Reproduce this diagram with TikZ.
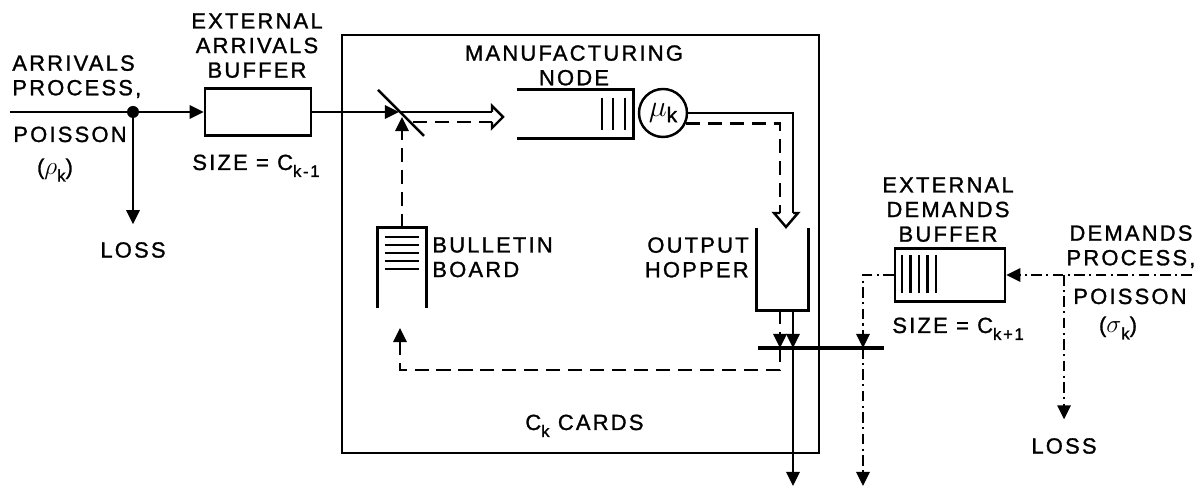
\documentclass[tikz,border=0pt]{standalone}
\usepackage{fontspec}
\newfontfamily\lett{Liberation Sans}[LetterSpace=10,FakeBold=1.2]
\usepackage{tikz}
\usetikzlibrary{arrows.meta,positioning}
\tikzset{
  ln/.style={line width=1.4pt},
  tp/.style={-{Triangle[length=8pt,width=7.5pt]}},
  fw/.style={ln,tp},
  crd/.style={ln,dash pattern=on 8pt off 4.5pt},
  dmd/.style={ln,dash pattern=on 6pt off 2.5pt on 1.2pt off 2.5pt},
  buf/.style={draw,ln,inner sep=0pt},
  lbl/.style={font=\lett\fontsize{12.5}{14}\selectfont,align=center,inner sep=0pt}
}
\newcommand{\lowix}[1]{\raisebox{-0.6ex}{\fontsize{9.5}{10}\selectfont #1}}
\newcommand{\holr}[2]{\draw[ln] (#1-0.22,#2+0.10) -- (#1-0.22,#2+0.22) -- (#1,#2) -- (#1-0.22,#2-0.22) -- (#1-0.22,#2-0.10);}
\newcommand{\hold}[2]{\draw[ln] (#1-0.12,#2+0.28) -- (#1-0.24,#2+0.28) -- (#1,#2) -- (#1+0.24,#2+0.28) -- (#1+0.14,#2+0.28);}

\begin{document}
\begin{tikzpicture}
\useasboundingbox (0,0) rectangle (24.04,9.74);
% the card loop
\node[buf,minimum width=9.54cm,minimum height=8.36cm] (cell) at (11.61,4.86) {};
\node[lbl,anchor=base west] (cards) at (10.50,1.14) {C\lowix{k} CARDS};

% arrivals side
\coordinate (arrin) at (0.20,7.50);
\node[circle,fill,inner sep=0pt,minimum size=2.4mm] (split) at (2.66,7.50) {};
\node[buf,minimum width=2.12cm,minimum height=0.94cm] (arrbuf) at (5.16,7.50) {};
\node[lbl,anchor=north west,align=left] (arrp) at (0.24,8.64) {ARRIVALS\\PROCESS,};
\node[lbl,anchor=base west] (arrpo) at (0.26,6.90) {POISSON};
\node[lbl] (rho) at (1.10,6.34) {({\fontsize{14}{14}\selectfont$\rho$}\lowix{k})};
\node[lbl] (lossa) at (2.66,4.74) {LOSS};
\node[lbl,anchor=north] (arrbl) at (5.14,9.48) {EXTERNAL\\ARRIVALS\\BUFFER};
\node[lbl,anchor=base west] (size1) at (3.84,6.34) {SIZE = C\lowix{k-1}};
\draw[ln] (arrin) -- (split);
\draw[fw] (split) -- (arrbuf);
\draw[fw,shorten >=10pt] (split) -- (lossa);

% switch in front of the node
\coordinate (sw) at (7.98,7.50);
\coordinate (swb) at (8.04,7.40);
\draw[ln] (7.56,7.94) -- (8.48,7.02);
\draw[fw] (arrbuf) -- (sw);
\draw[ln] (sw) -- (9.84,7.50);
\draw[crd] (8.26,7.30) -- (9.84,7.30);
\holr{10.06}{7.40}

% manufacturing node
\node[minimum width=2.32cm,minimum height=0.96cm,inner sep=0pt] (mfgq) at (11.50,7.46) {};
\draw[ln] (mfgq.north west) -- (mfgq.north east) -- (mfgq.south east) -- (mfgq.south west);
\foreach \x in {12.04,12.26,12.50} \draw[ln] (\x,7.78) -- (\x,7.14);
\node[circle,draw,ln,minimum size=0.96cm,inner sep=0pt,font=\lett\fontsize{12}{14}\selectfont] (mu) at (13.26,7.48) {{\fontsize{17}{17}\selectfont$\mu$}\raisebox{-0.5ex}{k}};
\node[lbl,anchor=north] (mfgl) at (11.48,8.84) {MANUFACTURING\\NODE};
\draw[ln] (mu.east) -| (15.86,5.48);
\draw[crd] (mu.-25) -| (15.60,5.48);
\hold{15.72}{5.20}

% output hopper
\node[minimum width=1.02cm,minimum height=1.64cm,inner sep=0pt] (hopper) at (15.65,4.36) {};
\draw[ln] (hopper.north west) -- (hopper.south west) -- (hopper.south east) -- (hopper.north east);
\node[lbl,anchor=north east,align=right] (hopl) at (14.98,5.00) {OUTPUT\\HOPPER};

% bulletin board
\node[minimum width=0.96cm,minimum height=1.60cm,inner sep=0pt] (board) at (8.04,4.38) {};
\draw[ln] (board.south west) -- (board.north west) -- (board.north east) -- (board.south east);
\foreach \y in {5.00,4.84,4.68,4.52,4.36} \draw[ln] (7.70,\y) -- (8.38,\y);
\node[lbl,anchor=north west,align=left] (boardl) at (8.64,5.00) {BULLETIN\\BOARD};
\draw[crd,tp] (board) -- (swb);

% demands side
\node[buf,minimum width=2.20cm,minimum height=1.06cm] (dembuf) at (19.00,4.24) {};
\foreach \x in {18.04,18.21,18.38,18.55,18.72} \draw[ln] (\x,4.64) -- (\x,3.88);
\node[lbl,anchor=north] (dembl) at (18.96,6.20) {EXTERNAL\\DEMANDS\\BUFFER};
\node[lbl,anchor=base west] (size2) at (17.84,3.08) {SIZE = C\lowix{k+1}};
\node[lbl,anchor=north] (dempl) at (22.62,5.24) {DEMANDS\\PROCESS,};
\node[lbl,anchor=base west] (dempo) at (21.46,3.66) {POISSON};
\node[lbl] (sigma) at (22.36,3.18) {({\fontsize{14}{14}\selectfont$\sigma$}\lowix{k})};
\node[lbl] (lossd) at (21.28,0.82) {LOSS};
\coordinate (demin) at (23.84,4.24);
\coordinate (dj) at (21.28,4.24);
\draw[dmd,tp] (demin) -- (dembuf);
\draw[dmd,tp,shorten >=10.5pt] (dj) -- (lossd);

% departures through the bar
\coordinate (dq) at (15.60,2.78);
\coordinate (sq) at (15.86,2.78);
\coordinate (aq) at (17.26,2.78);
\coordinate (cardin) at (8.00,3.18);
\coordinate (outp) at (15.86,0.02);
\coordinate (outd) at (17.26,0.02);
\draw[line width=1.8pt] (15.16,2.78) -- (17.68,2.78);
\draw[crd,tp] (hopper.south -| dq) -- (dq);
\draw[fw] (hopper.south -| sq) -- (sq);
\draw[fw] (sq) -- (outp);
\draw[crd,tp] (dq) -- (15.60,2.34) -| (cardin);
\draw[dmd,tp] (dembuf) -| (aq);
\draw[dmd,tp] (aq) -- (outd);
\end{tikzpicture}
\end{document}
